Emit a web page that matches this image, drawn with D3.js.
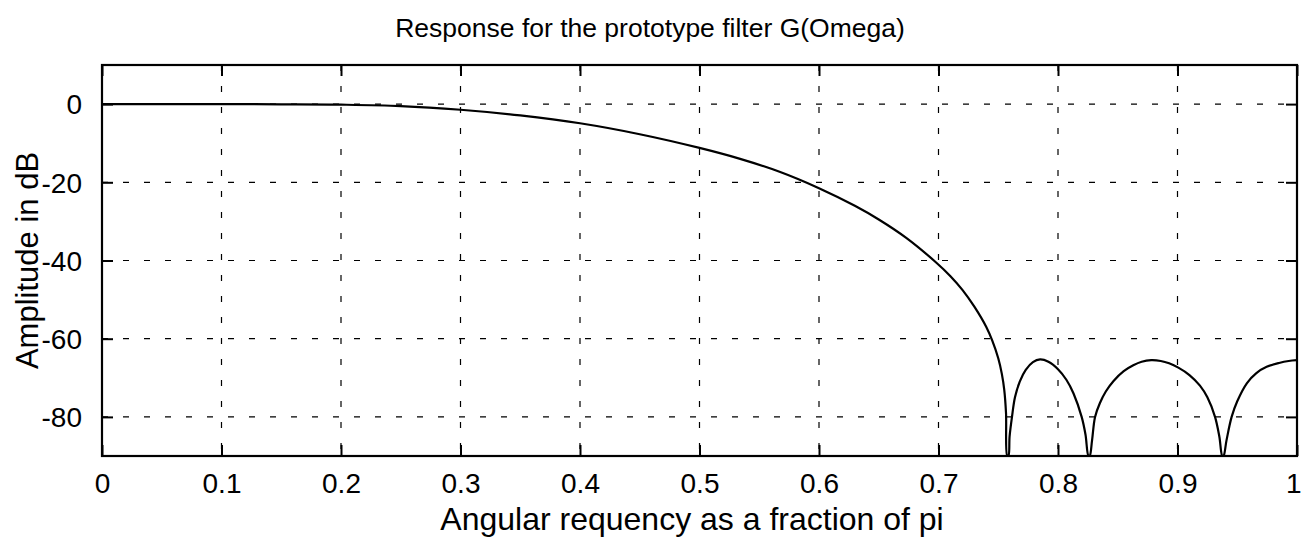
<!DOCTYPE html>
<html><head><meta charset="utf-8">
<script src="https://cdn.jsdelivr.net/npm/d3@7"></script>
<style>body{margin:0;background:#fff}svg{display:block}text{font-family:"Liberation Sans",Arial,sans-serif;fill:#000}</style>
</head><body><svg id="c" width="1301" height="537"></svg>
<script>
const freq = [0,0.05,0.10,0.15,0.20,0.25,0.30,0.35,0.40,0.45,0.50,0.534,0.567,0.60,0.63,0.65,0.673,0.698,0.71,0.72,0.73,0.74,0.745,0.75,0.753,0.755,0.7565,0.7575,
 0.7585,0.7595,0.7615,0.764,0.768,0.773,0.779,0.785,0.792,0.80,0.807,0.813,0.8198,0.823,0.8255,
 0.8265,0.8285,0.831,0.835,0.84,0.8465,0.855,0.863,0.87,0.878,0.886,0.893,0.9007,0.91,0.9188,0.925,0.9314,0.935,0.9375,
 0.9385,0.941,0.9453,0.95,0.958,0.966,0.9746,0.985,0.993,1.0];
const ampDb = [0,0,0,-0.05,-0.15,-0.5,-1.45,-2.9,-4.9,-7.7,-11.2,-14.0,-17.3,-21.5,-26.0,-29.5,-34.2,-40.5,-44.0,-47.5,-51.8,-57,-60.5,-65,-69,-73,-79,-90,
 -90,-85,-80,-75,-71,-68,-66,-65.3,-65.9,-67.8,-70.5,-74,-80,-84.5,-90,
 -90,-86,-80,-76.5,-73.5,-70.8,-68.3,-66.8,-65.9,-65.5,-65.7,-66.3,-67.4,-69.3,-72,-75,-80,-85,-90,
 -90,-86,-80,-76,-71.4,-68.8,-67.2,-66.2,-65.7,-65.5];
const xTicks = [0,0.1,0.2,0.3,0.4,0.5,0.6,0.7,0.8,0.9,1];
const xTickLabels = ["0","0.1","0.2","0.3","0.4","0.5","0.6","0.7","0.8","0.9","1"];
const yTicks = [-80,-60,-40,-20,0];
const yTickLabels = ["-80","-60","-40","-20","0"];
const titleText = "Response for the prototype filter G(Omega)";
const xLabelText = "Angular requency as a fraction of pi";
const yLabelText = "Amplitude in dB";

const svg = d3.select("#c");
const L=102,R=1297,T=65,B=456;
const x = d3.scaleLinear().domain([0,1]).range([L,R]);
const y = d3.scaleLinear().domain([-90,10]).range([B,T]);

svg.append("defs").append("clipPath").attr("id","clip").append("rect")
  .attr("x",L).attr("y",T).attr("width",R-L).attr("height",B-T);

// grid
const g = svg.append("g");
g.selectAll(".vg").data(xTicks.slice(1,-1)).enter().append("line")
  .attr("x1",d=>x(d)).attr("x2",d=>x(d)).attr("y1",T).attr("y2",B)
  .attr("stroke","#000").attr("stroke-width",1.2).attr("stroke-dasharray","6,15");
g.selectAll(".hg").data(yTicks).enter().append("line")
  .attr("x1",L).attr("x2",R).attr("y1",d=>y(d)).attr("y2",d=>y(d))
  .attr("stroke","#000").attr("stroke-width",1.2).attr("stroke-dasharray","6,15");

// axes
const fmtX = d=>xTickLabels[xTicks.indexOf(d)];
const fmtY = d=>yTickLabels[yTicks.indexOf(d)];
const ax = svg.append("g").attr("transform",`translate(0,${B})`)
  .call(d3.axisBottom(x).tickValues(xTicks).tickFormat(fmtX).tickSizeInner(-11).tickSizeOuter(0).tickPadding(17));
const axT = svg.append("g").attr("transform",`translate(0,${T})`)
  .call(d3.axisTop(x).tickValues(xTicks).tickFormat("").tickSizeInner(-11).tickSizeOuter(0));
const ay = svg.append("g").attr("transform",`translate(${L},0)`)
  .call(d3.axisLeft(y).tickValues(yTicks).tickFormat(fmtY).tickSizeInner(-11).tickSizeOuter(0).tickPadding(20));
const ayR = svg.append("g").attr("transform",`translate(${R},0)`)
  .call(d3.axisRight(y).tickValues(yTicks).tickFormat("").tickSizeInner(-11).tickSizeOuter(0));
[ax,axT,ay,ayR].forEach(a=>{
  a.select(".domain").remove();
  a.selectAll(".tick line").attr("stroke","#000").attr("stroke-width",2);
  a.selectAll("text").style("font-size","28px").style("font-family",'"Liberation Sans",Arial,sans-serif').attr("fill","#000");
});
ay.selectAll("text").attr("dy","0.35em");
// keep the last x tick label inside the page
ax.selectAll(".tick").filter(d=>d===1).select("text").attr("text-anchor","end").attr("dx","4");

svg.append("rect").attr("x",L).attr("y",T).attr("width",R-L).attr("height",B-T)
  .attr("fill","none").attr("stroke","#000").attr("stroke-width",2.2);

// curve
const data = freq.map((f,i)=>[f,ampDb[i]]);
svg.append("path").datum(data).attr("clip-path","url(#clip)")
  .attr("d",d3.line().x(d=>x(d[0])).y(d=>y(d[1])).curve(d3.curveCatmullRom.alpha(0.5)))
  .attr("fill","none").attr("stroke","#000").attr("stroke-width",2.2);

svg.append("text").attr("x",650).attr("y",37).attr("text-anchor","middle")
  .style("font-size","26.5px").text(titleText);
svg.append("text").attr("x",692).attr("y",530).attr("text-anchor","middle")
  .style("font-size","32px").text(xLabelText);
svg.append("text").attr("transform",`translate(38,${(T+B)/2}) rotate(-90)`).attr("text-anchor","middle")
  .style("font-size","31px").text(yLabelText);
</script></body></html>
